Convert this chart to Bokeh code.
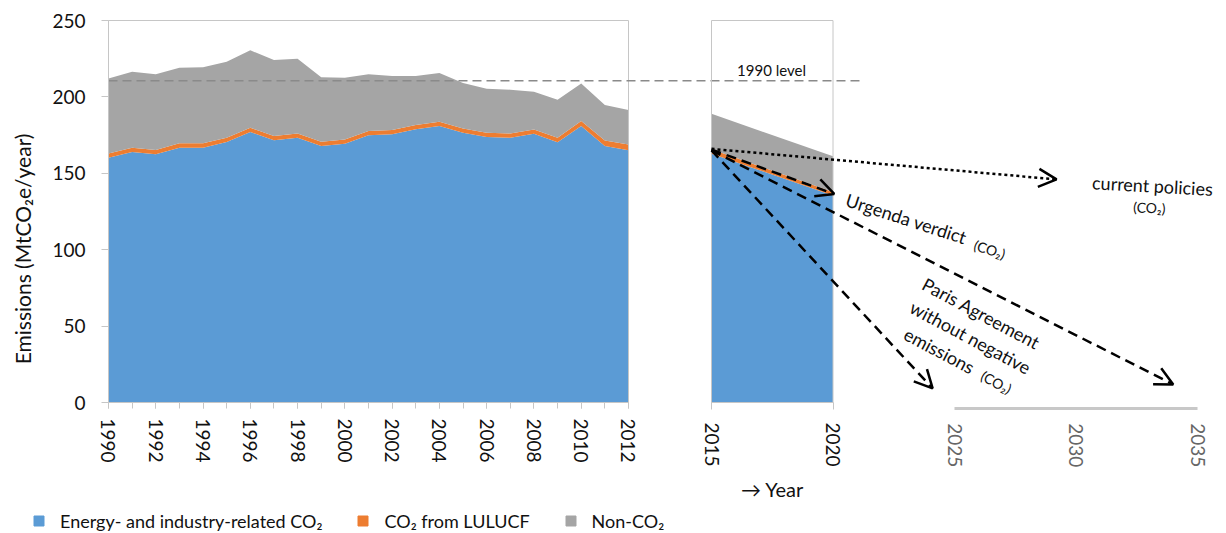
import math

from bokeh.core.properties import value
from bokeh.embed import file_html
from bokeh.models import (Arrow, ColumnDataSource, FixedTicker, Legend, LegendItem,
                          LinearAxis, OpenHead, Range1d)
from bokeh.plotting import figure
from bokeh.resources import INLINE

FONT = "Lato"
BLUE = "#5b9bd5"
ORANGE = "#ed7d31"
GREY = "#a5a5a5"
AXIS_GREY = "#c6c6c6"
TEXT = "#111111"

# ---- historical emissions, 1990-2012 (MtCO2e/year) ----
years_hist = list(range(1990, 2013))
energy_hist = [160.2, 163.9, 162.4, 166.8, 166.8, 170.5, 177.0, 171.6, 173.3, 167.9, 169.4, 174.9,
               175.5, 178.8, 181.0, 176.6, 173.8, 173.3, 175.9, 170.3, 181.0, 167.9, 165.1]
lulucf_hist = [2.8, 2.8, 2.8, 2.8, 2.8, 2.8, 2.8, 2.8, 2.8, 2.8, 2.8, 2.8,
               2.8, 2.8, 2.8, 2.8, 2.8, 2.8, 2.8, 2.9, 3.2, 3.6, 3.7]
non_co2_hist = [49.1, 49.8, 49.6, 49.5, 49.8, 49.7, 50.7, 49.7, 48.9, 42.1, 40.4, 37.1,
                35.4, 32.1, 31.8, 29.7, 28.8, 28.6, 24.7, 25.0, 24.5, 23.2, 22.6]

# ---- 2015-2020 ----
years_proj = [2015, 2020]
energy_proj = [162.8, 135.5]
lulucf_proj = [3.0, 2.2]
non_co2_proj = [23.1, 23.5]

level_1990 = 210.5

# ---- CO2 pathways from 2015 ----
path_x0 = [2015, 2015, 2015, 2015]
path_y0 = [166.0, 165.5, 165.0, 165.0]
path_x1 = [2029.2, 2020.05, 2024.1, 2034.0]
path_y1 = [146.0, 136.5, 9.2, 11.8]
path_dash = ["3 3", "10 6", "10 6", "10 6"]

series_labels = ["Energy- and industry-related CO\u2082", "CO\u2082 from LULUCF", "Non-CO\u2082"]
series_colors = [BLUE, ORANGE, GREY]
hist_ticks = list(range(1990, 2013, 2))
y_ticks = [0, 50, 100, 150, 200, 250]
panel_ticks = [2015, 2020]
future_ticks = [2025, 2030, 2035]

# One canvas: the default x range carries the 2015-2035 years, the "hist" range
# carries the 1990-2012 panel on its own scale.
p = figure(width=1226, height=533,
           x_range=Range1d(1985.741, 2036.193), y_range=Range1d(-85.73, 263.09),
           x_axis_location=None, y_axis_location=None, output_backend="svg",
           toolbar_location=None, title=None, min_border=0, outline_line_color=None,
           background_fill_color="white", border_fill_color="white")
p.extra_x_ranges = {"hist": Range1d(1985.431, 2037.301)}
p.grid.grid_line_color = None

# ======================= historical panel =======================
src_hist = ColumnDataSource(dict(year=years_hist, energy=energy_hist,
                                 lulucf=lulucf_hist, non_co2=non_co2_hist))
p.varea_stack(["energy", "lulucf", "non_co2"], x="year", source=src_hist,
              color=series_colors, x_range_name="hist")
p.quad(left=[years_hist[0]], right=[years_hist[-1]], bottom=[0], top=[250], fill_color=None,
       line_color=AXIS_GREY, line_width=1, x_range_name="hist")
p.line(x=[1990, 2021.9], y=[level_1990, level_1990], line_color="#8a8a8a",
       line_width=1.5, line_dash="9 5", x_range_name="hist")

xa = LinearAxis(x_range_name="hist", fixed_location=0, bounds=(1990, 2012),
                ticker=FixedTicker(ticks=hist_ticks, minor_ticks=years_hist),
                major_label_orientation="vertical",
                axis_line_color=AXIS_GREY, major_tick_line_color=AXIS_GREY,
                minor_tick_line_color=AXIS_GREY, major_tick_in=0, major_tick_out=6,
                minor_tick_in=0, minor_tick_out=6, major_label_standoff=10,
                major_label_text_font=FONT, major_label_text_font_size="19px",
                major_label_text_color=TEXT)
p.add_layout(xa, "below")

ya = LinearAxis(x_range_name="hist", fixed_location=1990, bounds=(0, 250),
                ticker=FixedTicker(ticks=y_ticks),
                axis_line_color=AXIS_GREY, major_tick_line_color=AXIS_GREY,
                minor_tick_line_color=None, major_tick_in=0, major_tick_out=7,
                major_label_standoff=16, major_label_text_font=FONT,
                major_label_text_font_size="19px", major_label_text_color=TEXT)
p.add_layout(ya, "left")

p.text(x=[1986.38], y=[100.5], text=["Emissions (MtCO\u2082e/year)"], angle=math.pi / 2,
       text_font=value(FONT), text_font_size="21px", text_color=TEXT,
       text_align="center", text_baseline="middle", x_range_name="hist")

# ======================= 2015-2020 panel =======================
src_proj = ColumnDataSource(dict(year=years_proj, energy=energy_proj,
                                 lulucf=lulucf_proj, non_co2=non_co2_proj))
p.varea_stack(["energy", "lulucf", "non_co2"], x="year", source=src_proj, color=series_colors)
p.quad(left=[years_proj[0]], right=[years_proj[-1]], bottom=[0], top=[250], fill_color=None,
       line_color=AXIS_GREY, line_width=1)
p.text(x=[2017.47], y=[217.7], text=["1990 level"], text_font=value(FONT),
       text_font_size="15px", text_color=TEXT, text_align="center", text_baseline="middle")

xr = LinearAxis(fixed_location=0, bounds=(2015, 2020), ticker=FixedTicker(ticks=panel_ticks),
                major_label_orientation="vertical", axis_line_color=AXIS_GREY,
                major_tick_line_color=AXIS_GREY, minor_tick_line_color=None,
                major_tick_in=0, major_tick_out=7, major_label_standoff=13,
                major_label_text_font=FONT, major_label_text_font_size="19px",
                major_label_text_color=TEXT)
p.add_layout(xr, "below")
p.text(x=[2017.51], y=[-56.3], text=["\u2192 Year"], text_font=value(FONT),
       text_font_size="20px", text_color=TEXT, text_align="center", text_baseline="middle")

# extended time axis
xf = LinearAxis(fixed_location=-3.7, bounds=(2025, 2035), ticker=FixedTicker(ticks=future_ticks),
                major_label_orientation="vertical", axis_line_color="#c8c8c8", axis_line_width=3,
                major_tick_line_color=None, minor_tick_line_color=None,
                major_tick_in=0, major_tick_out=0, major_label_standoff=15,
                major_label_text_font=FONT, major_label_text_font_size="19px",
                major_label_text_color="#666666")
p.add_layout(xf, "below")

# ======================= pathways =======================
for i in range(len(path_x0)):
    src = ColumnDataSource(dict(x0=[path_x0[i]], y0=[path_y0[i]], x1=[path_x1[i]], y1=[path_y1[i]]))
    p.add_layout(Arrow(source=src, x_start="x0", y_start="y0", x_end="x1", y_end="y1",
                       line_color="black", line_width=2.5, line_dash=path_dash[i],
                       end=OpenHead(size=18, line_width=2.5, line_color="black")))

big = dict(text_font=value(FONT), text_color=TEXT, text_align="center", text_baseline="middle")
p.text(x=[2033.15], y=[142.0], text=["current policies"], text_font_size="18px",
       angle=-0.055, **big)
p.text(x=[2033.02], y=[127.6], text=["(CO\u2082)"], text_font_size="14px", angle=-0.05, **big)

p.text(x=[2023.02], y=[120.4], text=["Urgenda verdict"], text_font_size="18px",
       angle=-0.314, **big)
p.text(x=[2026.45], y=[100.2], text=["(CO\u2082)"], text_font_size="14px", angle=-0.314, **big)

p.text(x=[2026.10, 2025.66, 2024.38], y=[58.4, 42.7, 34.0],
       text=["Paris Agreement", "without negative", "emissions"],
       text_font_size="18px", angle=-0.49, **big)
p.text(x=[2026.72], y=[13.3], text=["(CO\u2082)"], text_font_size="14px", angle=-0.49, **big)

# ======================= legend =======================
swatches = [p.scatter(x=[float("nan")], y=[float("nan")], marker="square", size=10, color=c)
            for c in series_colors]
legend = Legend(items=[LegendItem(label=lab, renderers=[r]) for lab, r in zip(series_labels, swatches)],
                orientation="horizontal", location=(26, 0), glyph_width=25, glyph_height=25,
                label_standoff=9, spacing=28, padding=0, margin=0,
                border_line_color=None, background_fill_alpha=0,
                label_text_font=FONT, label_text_font_size="18px", label_text_color=TEXT)
p.add_layout(legend, "center")

open("out.html", "w").write(file_html(p, INLINE))
